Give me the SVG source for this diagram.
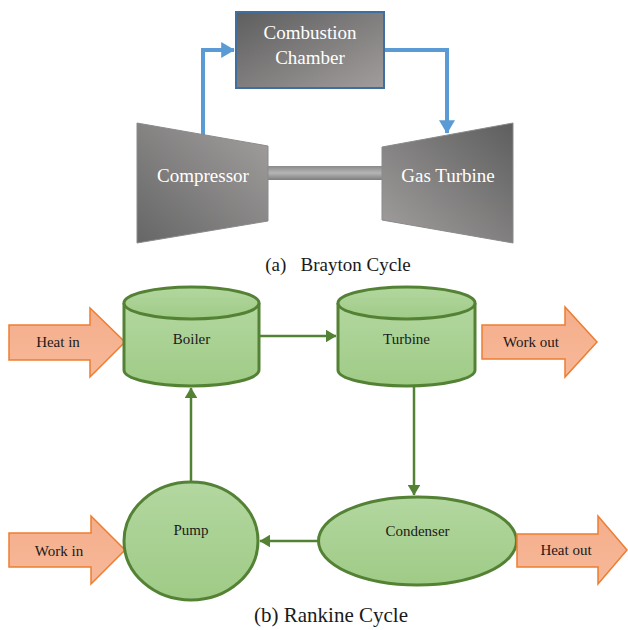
<svg xmlns="http://www.w3.org/2000/svg" width="628" height="630" viewBox="0 0 628 630">
<style>
.lbl{font-family:"Liberation Serif","Times New Roman",serif;fill:#1a1a1a;text-anchor:middle}
.wl{font-family:"Liberation Serif","Times New Roman",serif;fill:#ffffff;text-anchor:middle;font-size:19px}
.gn{fill:url(#gGreen);stroke:#548235;stroke-width:3}
.or{fill:url(#gOrange);stroke:#ed7d31;stroke-width:1.5}
.blue{fill:none;stroke:#5b9bd5;stroke-width:4}
.gline{fill:none;stroke:#548235;stroke-width:2.5}
</style>
<defs>
<linearGradient id="gChamber" x1="0" y1="0" x2="1" y2="1"><stop offset="0" stop-color="#5e5e5e"/><stop offset="1" stop-color="#a19d9c"/></linearGradient>
<linearGradient id="gComp" x1="1" y1="0" x2="0" y2="1"><stop offset="0" stop-color="#a3a09f"/><stop offset="1" stop-color="#666"/></linearGradient>
<linearGradient id="gTurb" x1="1" y1="0" x2="0" y2="1"><stop offset="0" stop-color="#5e5e5e"/><stop offset="1" stop-color="#a3a09f"/></linearGradient>
<linearGradient id="gShaft" x1="0" y1="0" x2="0" y2="1"><stop offset="0" stop-color="#8a8a8a"/><stop offset="0.5" stop-color="#b5b5b5"/><stop offset="1" stop-color="#7d7d7d"/></linearGradient>
<linearGradient id="gGreen" x1="0" y1="0" x2="0" y2="1"><stop offset="0" stop-color="#b3d7a0"/><stop offset="1" stop-color="#9fcb86"/></linearGradient>
<linearGradient id="gOrange" x1="0" y1="0" x2="0" y2="1"><stop offset="0" stop-color="#f4ae8c"/><stop offset="1" stop-color="#f7b898"/></linearGradient>
<marker id="mBlue" markerWidth="4" markerHeight="4" refX="3.2" refY="2" orient="auto" markerUnits="strokeWidth"><path d="M0,0 L3.4,2 L0,4 z" fill="#5b9bd5"/></marker>
<marker id="mGreen" markerWidth="5" markerHeight="5" refX="4" refY="2.5" orient="auto" markerUnits="strokeWidth"><path d="M0,0 L4.2,2.5 L0,5 z" fill="#548235"/></marker>
</defs>

<g id="connectors">
<path class="blue" d="M203,136 V50 H234" marker-end="url(#mBlue)"/>
<path class="blue" d="M385,50 H447 V133" marker-end="url(#mBlue)"/>
<path class="gline" d="M259,336 H336" marker-end="url(#mGreen)"/>
<path class="gline" d="M414,386 V495" marker-end="url(#mGreen)"/>
<path class="gline" d="M318,541 H260" marker-end="url(#mGreen)"/>
<path class="gline" d="M191,482 V388" marker-end="url(#mGreen)"/>
</g>

<g id="shaft">
<rect x="266" y="166" width="118" height="14" fill="url(#gShaft)"/>
</g>
<g id="chamber">
<rect x="236" y="12" width="148" height="76" fill="url(#gChamber)" stroke="#3f6fa0" stroke-width="2"/>
<text class="wl" x="310" y="39">Combustion</text>
<text class="wl" x="310" y="64">Chamber</text>
</g>
<g id="compressor">
<polygon points="137,123 268,146 268,221 137,243" fill="url(#gComp)" stroke="#8a8a8a" stroke-width="1"/>
<text class="wl" x="203" y="182">Compressor</text>
</g>
<g id="gasturbine">
<polygon points="382,147 513,123 513,243 382,220" fill="url(#gTurb)" stroke="#8a8a8a" stroke-width="1"/>
<text class="wl" x="448" y="182">Gas Turbine</text>
</g>
<g id="caption-a">
<text class="lbl" x="338" y="271" style="font-size:19px" xml:space="preserve">(a)   Brayton Cycle</text>
</g>

<g id="heatin">
<polygon class="or" points="9,325 90,325 90,308 125,342 90,377 90,360 9,360"/>
<text class="lbl" x="58" y="347" style="font-size:15px">Heat in</text>
</g>
<g id="boiler">
<path class="gn" d="M124,303 V370 A67.5,16 0 0 0 259,370 V303"/>
<ellipse class="gn" cx="191.5" cy="303" rx="67.5" ry="16"/>
<text class="lbl" x="191.5" y="344" style="font-size:15px">Boiler</text>
</g>
<g id="turbine">
<path class="gn" d="M338,303 V370 A68.5,16 0 0 0 475,370 V303"/>
<ellipse class="gn" cx="406.5" cy="303" rx="68.5" ry="16"/>
<text class="lbl" x="406.5" y="344" style="font-size:15px">Turbine</text>
</g>
<g id="workout">
<polygon class="or" points="482,325 565,325 565,307 597,342 565,377 565,359 482,359"/>
<text class="lbl" x="531" y="347" style="font-size:15px">Work out</text>
</g>
<g id="workin">
<polygon class="or" points="9,533 91,533 91,516 125,550 91,584 91,567 9,567"/>
<text class="lbl" x="59" y="556" style="font-size:15px">Work in</text>
</g>
<g id="pump">
<ellipse class="gn" cx="191" cy="541" rx="67" ry="59"/>
<text class="lbl" x="191" y="535" style="font-size:15px">Pump</text>
</g>
<g id="condenser">
<ellipse class="gn" cx="417.5" cy="541" rx="99" ry="44"/>
<text class="lbl" x="417.5" y="536" style="font-size:15px">Condenser</text>
</g>
<g id="heatout">
<polygon class="or" points="517,534 598,534 598,516 627,550 598,584 598,567 517,567"/>
<text class="lbl" x="566" y="555" style="font-size:15px">Heat out</text>
</g>
<g id="caption-b">
<text class="lbl" x="331" y="622" style="font-size:21px">(b) Rankine Cycle</text>
</g>
</svg>
